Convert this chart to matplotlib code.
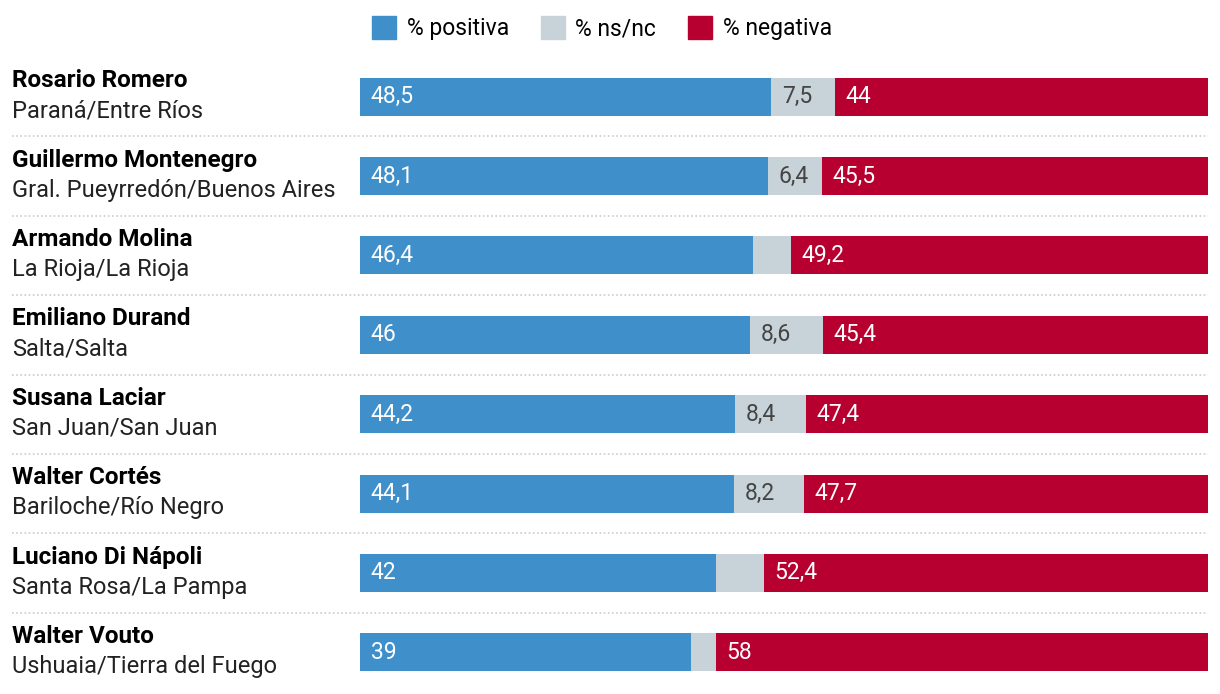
import matplotlib.pyplot as plt
from matplotlib.patches import Patch
from matplotlib.transforms import blended_transform_factory

# datos
nombres = ["Rosario Romero", "Guillermo Montenegro", "Armando Molina", "Emiliano Durand",
           "Susana Laciar", "Walter Cortés", "Luciano Di Nápoli", "Walter Vouto"]
ciudades = ["Paraná/Entre Ríos", "Gral. Pueyrredón/Buenos Aires", "La Rioja/La Rioja", "Salta/Salta",
            "San Juan/San Juan", "Bariloche/Río Negro", "Santa Rosa/La Pampa", "Ushuaia/Tierra del Fuego"]
positiva = [48.5, 48.1, 46.4, 46, 44.2, 44.1, 42, 39]
nsnc = [7.5, 6.4, 4.4, 8.6, 8.4, 8.2, 5.6, 3]
negativa = [44, 45.5, 49.2, 45.4, 47.4, 47.7, 52.4, 58]

azul = "#3f8fcb"
gris = "#c8d3d9"
rojo = "#b70030"

plt.rcParams['font.family'] = ['Roboto', 'DejaVu Sans']

fig = plt.figure(figsize=(12.2, 6.94), dpi=100)
ax = fig.add_axes([360 / 1220, 2 / 694, 848 / 1220, 635 / 694])

filas = list(range(len(nombres)))
izq_neg = [p + n for p, n in zip(positiva, nsnc)]
ax.barh(filas, positiva, height=0.48, color=azul)
ax.barh(filas, nsnc, left=positiva, height=0.48, color=gris)
ax.barh(filas, negativa, left=izq_neg, height=0.48, color=rojo)

def fmt(v):
    return f"{v:g}".replace(".", ",")

# etiquetas de valores
for i in filas:
    ax.text(1.25, i, fmt(positiva[i]), color="white", va="center", fontsize=16.5)
    if nsnc[i] >= 6:
        ax.text(positiva[i] + 1.25, i, fmt(nsnc[i]), color="#444444", va="center", fontsize=16.5)
    ax.text(izq_neg[i] + 1.25, i, fmt(negativa[i]), color="white", va="center", fontsize=16.5)

# nombres y ciudades
bt = blended_transform_factory(fig.transFigure, ax.transData)
for i in filas:
    ax.text(12 / 1220, i - 0.2, nombres[i], transform=bt, fontsize=17.5, fontweight="bold",
            va="center", ha="left", color="black", clip_on=False)
    ax.text(12 / 1220, i + 0.18, ciudades[i], transform=bt, fontsize=17,
            va="center", ha="left", color="#222222", clip_on=False)

# separadores punteados
for i in filas[:-1]:
    ax.plot([12 / 1220, 1208 / 1220], [i + 0.5, i + 0.5], transform=bt, color="#cccccc",
            linestyle=(0, (1, 1.5)), linewidth=1.2, clip_on=False)

ax.set_xlim(0, 100)
ax.set_ylim(7.5, -0.5)
ax.axis("off")

handles = [Patch(color=azul, label="% positiva"), Patch(color=gris, label="% ns/nc"),
           Patch(color=rojo, label="% negativa")]
fig.legend(handles=handles, loc="center", bbox_to_anchor=(602 / 1220, 1 - 28 / 694), ncol=3,
           frameon=False, fontsize=16.5, handlelength=1.05, handleheight=1.2,
           handletextpad=0.45, columnspacing=1.4)

fig.savefig("out.png", dpi=100)
